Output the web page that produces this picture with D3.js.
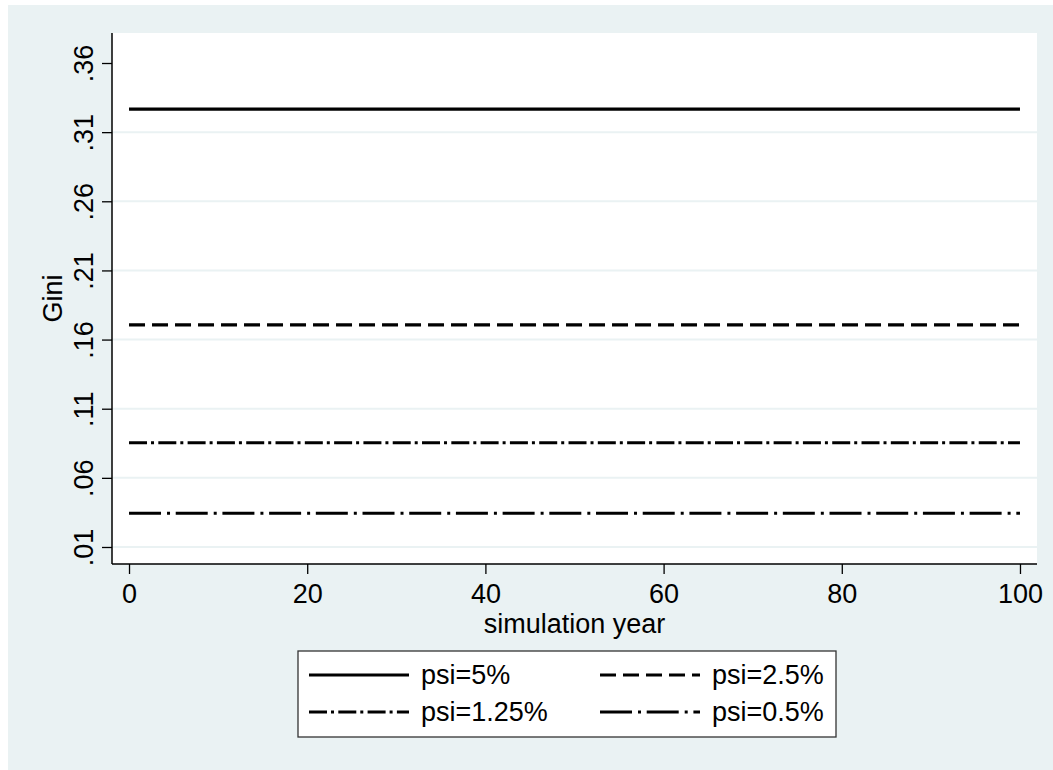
<!DOCTYPE html>
<html>
<head>
<meta charset="utf-8">
<script src="https://cdn.jsdelivr.net/npm/d3@7"></script>
<style>
  body { margin: 0; background: #ffffff; }
  text { font-family: "Liberation Sans", Arial, sans-serif; fill: #000; }
</style>
</head>
<body>
<div id="chart"></div>
<script>
// data
var years = [0, 20, 40, 60, 80, 100];
var seriesNames = ["psi=5%", "psi=2.5%", "psi=1.25%", "psi=0.5%"];
var gini5 = [0.3267, 0.3267, 0.3267, 0.3267, 0.3267, 0.3267];
var gini25 = [0.1706, 0.1706, 0.1706, 0.1706, 0.1706, 0.1706];
var gini125 = [0.0854, 0.0854, 0.0854, 0.0854, 0.0854, 0.0854];
var gini05 = [0.0344, 0.0344, 0.0344, 0.0344, 0.0344, 0.0344];
var yTicks = [0.01, 0.06, 0.11, 0.16, 0.21, 0.26, 0.31, 0.36];
var yTickLabels = [".01", ".06", ".11", ".16", ".21", ".26", ".31", ".36"];
var xTicks = [0, 20, 40, 60, 80, 100];

function createGiniChart(){

    var W = 1053, H = 770;
    var margin = { left:112, right:16, top:33, bottom:206 };
    var width = W - margin.left - margin.right,
        height = H - margin.top - margin.bottom;
    var fontSize = "27px";

    var dashes = ["none", "16,7", "18,4,3,4.3", "32,6,3,5.7"];

    var root = d3.select("#chart")
        .append("svg")
            .attr("width", W)
            .attr("height", H);

    root.append("rect")
        .attr("x", 8).attr("y", 5)
        .attr("width", W - 8).attr("height", H - 5)
        .attr("fill", "#eaf2f3");

    var svg = root.append("g")
        .attr("transform", "translate(" + margin.left + "," + margin.top + ")");

    svg.append("rect")
        .attr("width", width).attr("height", height)
        .attr("fill", "#ffffff");

    var xScale = d3.scaleLinear().domain([-1.91, 101.91]).range([0, width]);
    var yScale = d3.scaleLinear().domain([-0.0023, 0.3817]).range([height, 0]);

    // grid lines (none at the top tick)
    svg.selectAll(".grid")
        .data(yTicks.slice(0, yTicks.length - 1))
        .enter().append("line")
            .attr("x1", 0).attr("x2", width)
            .attr("y1", function(d){ return yScale(d); })
            .attr("y2", function(d){ return yScale(d); })
            .style("stroke", "#eaf2f3")
            .style("stroke-width", 2);

    var yaxis = d3.axisLeft(yScale)
        .tickValues(yTicks)
        .tickFormat(function(d, i){ return yTickLabels[i]; })
        .tickSize(10);

    var xaxis = d3.axisBottom(xScale)
        .tickValues(xTicks)
        .tickSize(10);

    var gy = svg.append("g").attr("class", "axis").call(yaxis);
    gy.select(".domain").remove();
    gy.selectAll(".tick line").style("stroke", "#000").style("stroke-width", 1.3);
    gy.selectAll(".tick text")
        .attr("x", 0).attr("y", -19).attr("dy", 0)
        .attr("transform", "rotate(-90)")
        .attr("text-anchor", "middle")
        .attr("font-size", fontSize)
        .style("font-family", "Liberation Sans, Arial, sans-serif")
        .style("fill", "#000");

    var gx = svg.append("g").attr("class", "axis")
        .attr("transform", "translate(0," + height + ")")
        .call(xaxis);
    gx.select(".domain").remove();
    gx.selectAll(".tick line").style("stroke", "#000").style("stroke-width", 1.3);
    gx.selectAll(".tick text")
        .attr("y", 39).attr("dy", 0)
        .attr("font-size", fontSize)
        .style("font-family", "Liberation Sans, Arial, sans-serif")
        .style("fill", "#000");

    // axis lines
    svg.append("line")
        .attr("x1", 0).attr("x2", 0).attr("y1", 0).attr("y2", height)
        .style("stroke", "#000").style("stroke-width", 1.5);
    svg.append("line")
        .attr("x1", 0).attr("x2", width).attr("y1", height).attr("y2", height)
        .style("stroke", "#000").style("stroke-width", 1.5);

    svg.append("text")
        .attr("transform", "rotate(-90)")
        .attr("x", -(height / 2))
        .attr("y", -50)
        .attr("font-size", fontSize)
        .attr("text-anchor", "middle")
        .text("Gini");

    svg.append("text")
        .attr("x", width / 2)
        .attr("y", height + 69)
        .attr("font-size", fontSize)
        .attr("text-anchor", "middle")
        .text("simulation year");

    var allSeries = [gini5, gini25, gini125, gini05];
    var data = allSeries.map(function(vals, i){
        return {
            name: seriesNames[i],
            dash: dashes[i],
            values: years.map(function(y, j){ return { year: y, value: vals[j] }; })
        };
    });

    var line = d3.line()
        .x(function(d){ return xScale(d.year); })
        .y(function(d){ return yScale(d.value); });

    svg.selectAll(".series")
        .data(data)
        .enter().append("path")
            .attr("class", "series")
            .attr("d", function(d){ return line(d.values); })
            .style("fill", "none")
            .style("stroke", "#000")
            .style("stroke-width", 3.2)
            .style("stroke-dasharray", function(d){ return d.dash; });

    // legend
    var lg = root.append("g");
    lg.append("rect")
        .attr("x", 298).attr("y", 651)
        .attr("width", 538).attr("height", 86)
        .attr("fill", "#ffffff")
        .attr("stroke", "#333")
        .attr("stroke-width", 1.3);

    var colX = [309, 600], rowY = [675, 712];
    var items = lg.selectAll(".key")
        .data(data)
        .enter().append("g")
            .attr("transform", function(d, i){
                return "translate(" + colX[i % 2] + "," + rowY[Math.floor(i / 2)] + ")";
            });

    items.append("line")
        .attr("x1", 0).attr("x2", 100)
        .style("stroke", "#000")
        .style("stroke-width", 3.2)
        .style("stroke-dasharray", function(d){ return d.dash; });

    items.append("text")
        .attr("x", 112)
        .attr("y", 9)
        .attr("font-size", fontSize)
        .text(function(d){ return d.name; });
}

createGiniChart();
</script>
</body>
</html>
